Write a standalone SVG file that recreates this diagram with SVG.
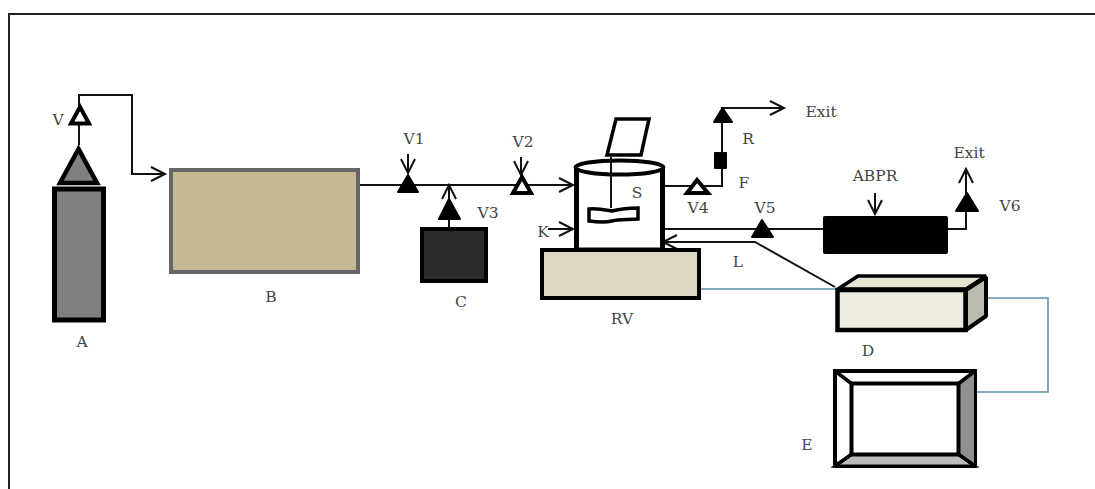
<svg xmlns="http://www.w3.org/2000/svg" width="1095" height="489" viewBox="0 0 1095 489">
<style>
text{font-family:"DejaVu Serif","Liberation Serif",serif;fill:#444;font-size:15.5px;text-anchor:middle}
.l{fill:none;stroke:#111;stroke-width:2}
.b{fill:none;stroke:#5f8fae;stroke-width:1.6}
.v{fill:#000;stroke:#000;stroke-width:2;stroke-linejoin:round}
.o{fill:#fff;stroke:#000;stroke-width:4;stroke-linejoin:miter;stroke-miterlimit:3}
</style>
<defs>
<marker id="a" markerUnits="userSpaceOnUse" markerWidth="18" markerHeight="18" refX="15" refY="9" orient="auto"><path d="M1 2L15 9L1 16" fill="none" stroke="#111" stroke-width="2"/></marker>
</defs>
<rect width="1095" height="489" fill="#fff"/>
<path d="M9 489V14H1095" fill="none" stroke="#222" stroke-width="2"/>
<g id="connectors">
<path class="l" d="M79 145V95H132V174H165" marker-end="url(#a)"/>
<path class="l" d="M357 185H573" marker-end="url(#a)"/>
<path class="l" d="M449 228V185" marker-end="url(#a)"/>
<path class="l" d="M408 154V173" marker-end="url(#a)"/>
<path class="l" d="M521 157V175" marker-end="url(#a)"/>
<path class="l" d="M664 186H722V108H784" marker-end="url(#a)"/>
<path class="l" d="M664 229H824"/>
<path class="l" d="M875 193V214" marker-end="url(#a)"/>
<path class="l" d="M948 229H966V169" marker-end="url(#a)"/>
<path class="l" d="M835 287L755 242H663" marker-end="url(#a)"/>
<path class="l" d="M548 229H573" marker-end="url(#a)"/>
<path class="b" d="M700 289H836"/>
<path class="b" d="M985 298H1048V392H976"/>
</g>
<g id="A">
<rect x="54.5" y="189" width="49" height="131" fill="#808080" stroke="#000" stroke-width="5"/>
<path d="M78.5 149L60 183H97Z" fill="#808080" stroke="#000" stroke-width="4.5"/>
<text x="82" y="347">A</text>
</g>
<g id="V"><path class="o" d="M80 107L71 123.5H89Z"/><text x="58" y="125">V</text></g>
<g id="B"><rect x="171" y="170" width="187" height="102" fill="#c3ba94" stroke="#666" stroke-width="4"/><text x="271" y="302">B</text></g>
<g id="V1"><path class="v" d="M408 175L398 192H418Z"/><text x="414" y="144">V1</text></g>
<g id="V2"><path class="o" d="M522 177L513 193H531Z"/><text x="523" y="147">V2</text></g>
<g id="V3"><path class="v" d="M449 199L439 219H460Z"/><text x="488" y="218">V3</text></g>
<g id="C"><rect x="422" y="229" width="64" height="52" fill="#2b2b2b" stroke="#000" stroke-width="4"/><text x="461" y="307">C</text></g>
<g id="RV">
<path d="M576.500 168V250H662.500V168" fill="#fff" stroke="#000" stroke-width="5"/>
<ellipse cx="619.500" cy="167.500" rx="44" ry="7" fill="#fff" stroke="#000" stroke-width="4"/>
<path d="M616 119H649L641 155H607Z" fill="#fff" stroke="#000" stroke-width="3.500"/>
<path class="l" d="M611 157V208"/>
<path d="M589 209C598 208 606 210 612 211C620 209 630 208 638 208V219C628 220 620 219 612 221C604 223 596 222 589 221Z" fill="#fff" stroke="#000" stroke-width="3.500"/>
<rect x="542" y="250" width="157" height="48" fill="#dcd8c3" stroke="#000" stroke-width="4"/>
<text x="637" y="198">S</text>
<text x="543" y="237">K</text>
<text x="622" y="324">RV</text>
</g>
<g id="V4"><path class="o" d="M697 180L687 193H708Z"/><text x="698" y="213">V4</text></g>
<g id="F"><rect x="714" y="152" width="13" height="17" rx="1" fill="#000"/><text x="744" y="188">F</text><text x="748" y="144">R</text></g>
<g id="R"><path class="v" d="M722.500 108L714 122H732Z"/><text x="821" y="117">Exit</text></g>
<g id="V5"><path class="v" d="M762 220L752 237H773Z"/><text x="765" y="213">V5</text></g>
<g id="ABPR"><rect x="823" y="216" width="125" height="38" rx="2" fill="#000"/><text x="875" y="181">ABPR</text></g>
<g id="V6"><path class="v" d="M967 193L956 211H978Z"/><text x="969" y="158">Exit</text><text x="1010" y="211">V6</text></g>
<g id="L"><text x="738" y="267">L</text></g>
<g id="D">
<path d="M838 289L858 276H986L966 289Z" fill="#e6e3d2" stroke="#000" stroke-width="3.500" stroke-linejoin="bevel"/>
<path d="M966 290L986 277V316L966 330Z" fill="#bdbaae" stroke="#000" stroke-width="4" stroke-linejoin="bevel"/>
<rect x="837.500" y="290" width="128" height="40" fill="#efede0" stroke="#000" stroke-width="4.500"/>
<text x="868" y="356">D</text>
</g>
<g id="E">
<rect x="835" y="371" width="140" height="95" fill="#fff" stroke="#000" stroke-width="4"/>
<path d="M958 384L975 371V466L958 454Z" fill="#909090" stroke="#000" stroke-width="2"/>
<path d="M852 454H958L975 466H835Z" fill="#bbb" stroke="#000" stroke-width="3"/>
<path d="M835 371L852 384M975 371L958 384M835 466L852 454M975 466L958 454" fill="none" stroke="#000" stroke-width="3.500"/>
<rect x="851.500" y="383.500" width="107" height="71" fill="#fff" stroke="#000" stroke-width="4"/>
<text x="807" y="450">E</text>
</g>
</svg>
